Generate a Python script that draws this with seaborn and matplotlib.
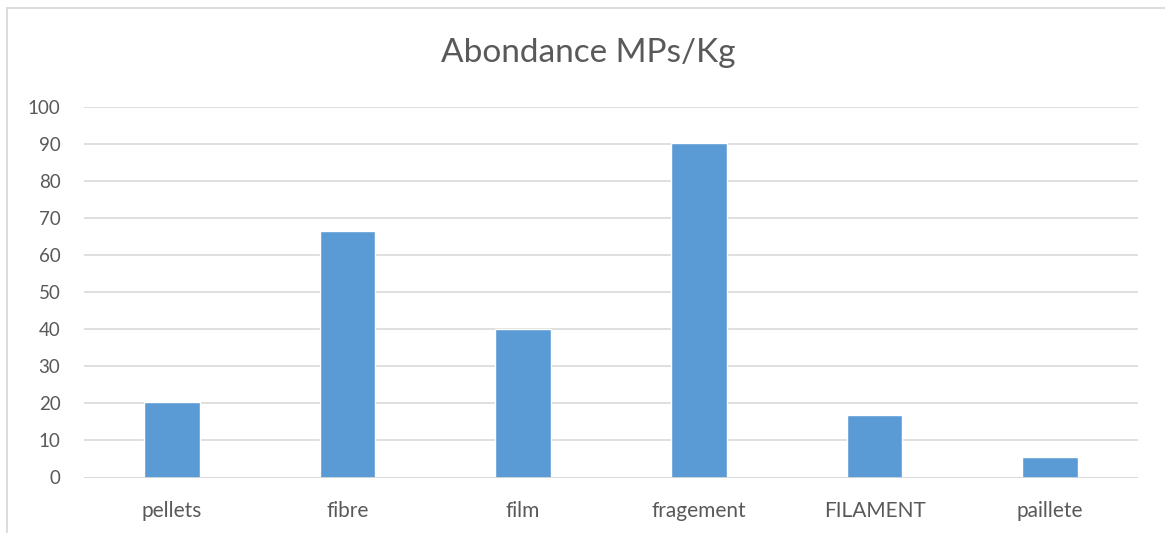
import matplotlib
matplotlib.use("Agg")
import matplotlib.pyplot as plt
from matplotlib.patches import Rectangle
import seaborn as sns
import pandas as pd

categories = ["pellets", "fibre", "film", "fragement", "FILAMENT", "paillete"]
values = [20.5, 66.4, 40.1, 90.3, 16.9, 5.5]
y_ticks = [0, 10, 20, 30, 40, 50, 60, 70, 80, 90, 100]

df = pd.DataFrame({"type": categories, "abondance": values})

sns.set_theme(style="white")
plt.rcParams["font.family"] = ["Lato", "DejaVu Sans"]

W, H = 1165, 533
fig = plt.figure(figsize=(W / 100, H / 100), dpi=100)
fig.patch.set_facecolor("white")

# light chart-area frame
fig.patches.append(Rectangle((7 / W, -0.1), 1.2, 1 - 8 / H + 0.1,
                             transform=fig.transFigure, fill=False,
                             edgecolor="#D9D9D9", linewidth=1.3))

ax = fig.add_axes([84 / W, 1 - 477.5 / H, (1138 - 84) / W, (477.5 - 107) / H])
sns.barplot(data=df, x="type", y="abondance", color="#5B9BD5",
            saturation=1, width=0.315, ax=ax, zorder=3)

ax.set_ylim(0, 100)
ax.set_yticks(y_ticks)
ax.set_xlim(-0.5, len(categories) - 0.5)
ax.yaxis.grid(True, color="#D9D9D9", linewidth=1.2, zorder=0)
ax.xaxis.grid(False)
for s in ax.spines.values():
    s.set_visible(False)
ax.axhline(0, color="#D9D9D9", linewidth=1.2, zorder=4)
ax.set_xlabel("")
ax.set_ylabel("")
ax.tick_params(axis="both", length=0, labelcolor="#595959")
ax.tick_params(axis="y", pad=17, labelsize=13.5)
ax.tick_params(axis="x", pad=17, labelsize=15)

fig.text(588 / W, 1 - 53 / H, "Abondance MPs/Kg", ha="center", va="center",
         fontsize=24, color="#595959")

fig.savefig("out.png", dpi=100, facecolor="white")
